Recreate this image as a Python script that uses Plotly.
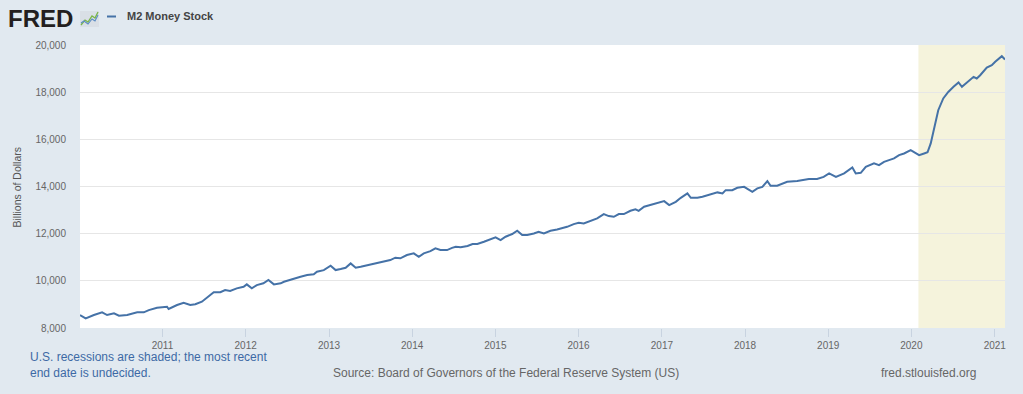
import plotly.graph_objects as go

# ---------------- data ----------------
dates = [
    "2010-01-04", "2010-01-29", "2010-03-06", "2010-04-11", "2010-05-03", "2010-06-02",
    "2010-06-24", "2010-07-30", "2010-09-12", "2010-10-11", "2010-11-02", "2010-12-08",
    "2011-01-21", "2011-01-28", "2011-03-06", "2011-04-04", "2011-05-03", "2011-05-25",
    "2011-06-23", "2011-07-15", "2011-07-30", "2011-08-14", "2011-09-12", "2011-10-03",
    "2011-10-25", "2011-11-23", "2011-12-23", "2012-01-06", "2012-01-28", "2012-02-19",
    "2012-03-19", "2012-04-10", "2012-05-04", "2012-06-03", "2012-06-17", "2012-07-31",
    "2012-08-29", "2012-09-27", "2012-10-26", "2012-11-09", "2012-12-09", "2013-01-08",
    "2013-01-30", "2013-02-21", "2013-03-15", "2013-04-06", "2013-04-28", "2013-05-20",
    "2013-07-03", "2013-07-31", "2013-08-29", "2013-09-27", "2013-10-19", "2013-11-10",
    "2013-12-09", "2014-01-08", "2014-01-30", "2014-02-21", "2014-03-22", "2014-04-13",
    "2014-05-05", "2014-06-03", "2014-06-25", "2014-07-11", "2014-08-02", "2014-09-01",
    "2014-09-23", "2014-10-14", "2014-11-12", "2014-12-11", "2015-01-02", "2015-01-24",
    "2015-02-15", "2015-03-16", "2015-04-07", "2015-04-29", "2015-05-21", "2015-06-19",
    "2015-07-10", "2015-08-02", "2015-08-31", "2015-09-29", "2015-11-12", "2015-12-11",
    "2016-01-02", "2016-01-24", "2016-02-23", "2016-03-23", "2016-04-21", "2016-05-13",
    "2016-06-04", "2016-06-26", "2016-07-18", "2016-08-16", "2016-09-07", "2016-09-21",
    "2016-10-15", "2016-11-13", "2016-12-13", "2017-01-11", "2017-02-02", "2017-03-03",
    "2017-03-25", "2017-04-23", "2017-05-08", "2017-06-06", "2017-06-28", "2017-07-20",
    "2017-09-02", "2017-09-24", "2017-10-08", "2017-11-06", "2017-11-28", "2017-12-28",
    "2018-02-02", "2018-02-24", "2018-03-18", "2018-04-09", "2018-04-23", "2018-05-22",
    "2018-06-13", "2018-07-05", "2018-08-18", "2018-09-16", "2018-10-08", "2018-11-13",
    "2018-12-12", "2019-01-05", "2019-02-04", "2019-03-12", "2019-04-03", "2019-04-17",
    "2019-05-02", "2019-05-24", "2019-06-15", "2019-07-21", "2019-08-12", "2019-09-03",
    "2019-09-25", "2019-10-17", "2019-11-08", "2019-11-30", "2019-12-29", "2020-02-04",
    "2020-02-26", "2020-03-12", "2020-03-26", "2020-04-14", "2020-04-28", "2020-05-20",
    "2020-06-11", "2020-07-04", "2020-07-26", "2020-08-10", "2020-09-01", "2020-09-30",
    "2020-10-14", "2020-10-29", "2020-11-27", "2020-12-19", "2021-01-03", "2021-02-01",
    "2021-02-15",
]
m2_values = [
    8550, 8410, 8550, 8665, 8550, 8620,
    8520, 8550, 8665, 8665, 8760, 8860,
    8900, 8805, 8975, 9070, 8975, 9005,
    9115, 9285, 9430, 9515, 9515, 9610,
    9570, 9680, 9750, 9850, 9680, 9820,
    9895, 10035, 9850, 9895, 9960, 10105,
    10175, 10245, 10275, 10385, 10455, 10640,
    10455, 10500, 10555, 10740, 10555, 10595,
    10700, 10740, 10810, 10880, 10980, 10955,
    11095, 11165, 11020, 11165, 11260, 11375,
    11305, 11305, 11400, 11445, 11420, 11475,
    11560, 11560, 11655, 11760, 11845, 11730,
    11870, 11985, 12125, 11940, 11940, 12010,
    12080, 12010, 12125, 12180, 12290, 12405,
    12460, 12435, 12545, 12650, 12830, 12745,
    12715, 12830, 12830, 12970, 13030, 12970,
    13140, 13210, 13285, 13380, 13210, 13350,
    13520, 13705, 13520, 13520, 13565, 13635,
    13750, 13705, 13845, 13845, 13945, 13985,
    13775, 13920, 13985, 14230, 14030, 14030,
    14130, 14200, 14230, 14270, 14315, 14315,
    14410, 14555, 14410, 14555, 14725, 14810,
    14555, 14580, 14835, 14980, 14905, 15045,
    15120, 15190, 15330, 15400, 15540, 15330,
    15400, 15450, 15825, 16675, 17235, 17735,
    18010, 18225, 18410, 18225, 18410, 18650,
    18580, 18720, 19045, 19145, 19285, 19525,
    19385,
]
series_name = "M2 Money Stock"
recession_start = "2020-02-01"
recession_end = "2021-02-15"
x_range = ["2010-01-04", "2021-02-15"]
year_ticks = ["2011", "2012", "2013", "2014", "2015", "2016", "2017", "2018", "2019", "2020", "2021"]
y_ticks = [8000, 10000, 12000, 14000, 16000, 18000, 20000]

# ---------------- layout helpers ----------------
W, H = 1023, 394
ML, MR, MT, MB = 80, 18, 45, 66
PW, PH = W - ML - MR, H - MT - MB


def px(x):
    return (x - ML) / PW


def py(y):
    return (H - MB - y) / PH


BG = "#e1e9f0"
LINE = "#4572a7"
FONT = "Arial, Liberation Sans, sans-serif"

fig = go.Figure()
fig.add_trace(go.Scatter(
    x=dates, y=m2_values, mode="lines", name=series_name,
    line=dict(color=LINE, width=2), showlegend=False,
))

shapes = [
    # recession shading
    dict(type="rect", xref="x", yref="paper", x0=recession_start, x1=recession_end,
         y0=0, y1=1, fillcolor="#f5f3dc", line=dict(width=0), layer="below"),
    # legend line
    dict(type="line", xref="paper", yref="paper", x0=px(107), x1=px(116),
         y0=py(16.5), y1=py(16.5), line=dict(color=LINE, width=2)),
    # FRED icon box
    dict(type="rect", xref="paper", yref="paper", x0=px(80), x1=px(99),
         y0=py(27), y1=py(11), fillcolor="#d9dfe6", line=dict(width=0)),
    dict(type="path", xref="paper", yref="paper",
         path=f"M {px(81)},{py(25)} L {px(85)},{py(20)} L {px(88)},{py(22)} L {px(92)},{py(16)} L {px(95)},{py(18)} L {px(98)},{py(12)}",
         line=dict(color="#7ab648", width=1.3)),
    dict(type="path", xref="paper", yref="paper",
         path=f"M {px(81)},{py(23)} L {px(84)},{py(21)} L {px(88)},{py(24)} L {px(92)},{py(19)} L {px(95)},{py(21)} L {px(98)},{py(15)}",
         line=dict(color="#5b8cc4", width=1.1)),
]

annotations = [
    dict(text="<b>FRED</b>", xref="paper", yref="paper", x=px(6), y=py(18.5),
         xanchor="left", yanchor="middle", showarrow=False,
         font=dict(family=FONT, size=24, color="#231f20")),
    dict(text="<b>" + series_name + "</b>", xref="paper", yref="paper", x=px(125), y=py(16.5),
         xanchor="left", yanchor="middle", showarrow=False,
         font=dict(family=FONT, size=11, color="#444444")),
    dict(text="Billions of Dollars", xref="paper", yref="paper", x=px(16.5), y=py(187),
         xanchor="center", yanchor="middle", textangle=-90, showarrow=False,
         font=dict(family=FONT, size=10.5, color="#555555")),
    dict(text="U.S. recessions are shaded; the most recent<br>end date is undecided.",
         xref="paper", yref="paper", x=px(28), y=py(365), xanchor="left", yanchor="middle",
         align="left", showarrow=False,
         font=dict(family=FONT, size=12, color="#3d6aa5")),
    dict(text="Source: Board of Governors of the Federal Reserve System (US)",
         xref="paper", yref="paper", x=px(506), y=py(373), xanchor="center", yanchor="middle",
         showarrow=False, font=dict(family=FONT, size=12, color="#666666")),
    dict(text="fred.stlouisfed.org", xref="paper", yref="paper", x=px(978), y=py(373),
         xanchor="right", yanchor="middle", showarrow=False,
         font=dict(family=FONT, size=12, color="#666666")),
]

fig.update_layout(
    width=W, height=H, autosize=False,
    margin=dict(l=ML, r=MR, t=MT, b=MB),
    paper_bgcolor=BG, plot_bgcolor="#ffffff",
    font=dict(family=FONT, color="#666666"),
    shapes=shapes, annotations=annotations,
    hovermode=False,
    xaxis=dict(
        type="date", range=x_range,
        tickvals=[y + "-01-01" for y in year_ticks], ticktext=year_ticks,
        ticks="outside", ticklen=8, tickcolor="#c8d3e0", tickwidth=1,
        showgrid=False, zeroline=False, showline=False,
        tickfont=dict(size=10, color="#666666"),
    ),
    yaxis=dict(
        range=[8000, 20000], tickvals=y_ticks, tickformat=",",
        ticks="outside", ticklen=11, tickcolor="rgba(0,0,0,0)",
        showgrid=True, gridcolor="#e6e6e6", gridwidth=1,
        zeroline=False, showline=False,
        tickfont=dict(size=10, color="#666666"),
    ),
)

fig.write_html(
    "out.html",
    config={"displayModeBar": False, "staticPlot": True},
    post_script="document.body.style.margin='0px';document.body.style.background='" + BG + "';",
)
